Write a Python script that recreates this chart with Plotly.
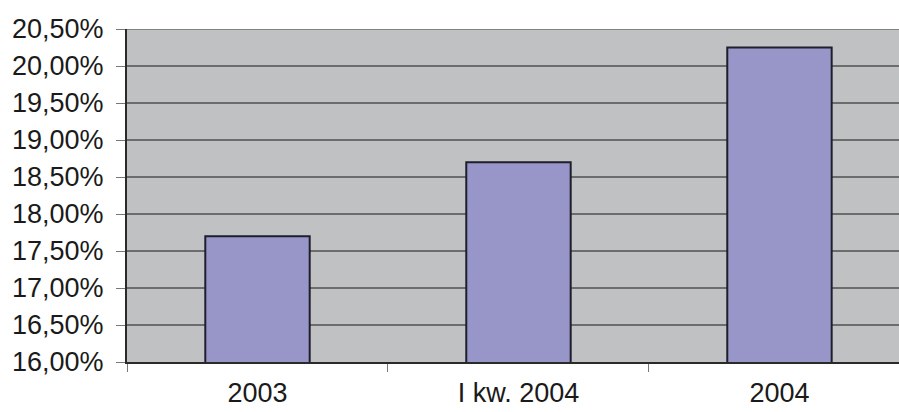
import plotly.graph_objects as go

# Share of value per period
categories = ["2003", "I kw. 2004", "2004"]
values = [0.1770, 0.1870, 0.2025]
y_ticks = [0.16, 0.165, 0.17, 0.175, 0.18, 0.185, 0.19, 0.195, 0.20, 0.205]

font_family = "Liberation Sans, Arial, sans-serif"
grid_color = "#6c6c6c"

fig = go.Figure(
    go.Bar(
        x=categories,
        y=values,
        width=0.40,
        marker=dict(color="#9896c9", line=dict(color="#1e1e2c", width=2)),
    )
)

fig.update_layout(
    width=899,
    height=412,
    margin=dict(l=127, r=0, t=29, b=50),
    paper_bgcolor="white",
    plot_bgcolor="#bfc1c3",
    separators=", ",
    showlegend=False,
    font=dict(family=font_family, color="#1a1a1a"),
)

# Gridline along the top edge of the plotting area
fig.add_shape(
    type="line",
    xref="paper",
    yref="y",
    x0=0,
    x1=1,
    y0=y_ticks[-1],
    y1=y_ticks[-1],
    line=dict(color=grid_color, width=1.5),
    layer="below",
)

fig.update_xaxes(
    type="category",
    range=[-0.5, 2.458],
    automargin=False,
    showgrid=False,
    showline=True,
    linecolor="#2a2a2a",
    linewidth=2,
    ticks="outside",
    tickson="boundaries",
    ticklen=8,
    tickcolor="#777777",
    tickwidth=1,
    tickfont=dict(size=27, family=font_family, color="#1a1a1a"),
    ticklabelstandoff=6,
)

fig.update_yaxes(
    range=[0.16, 0.205],
    automargin=False,
    tickvals=y_ticks,
    tickformat=".2%",
    showgrid=True,
    gridcolor=grid_color,
    gridwidth=1.5,
    showline=True,
    linecolor="#2a2a2a",
    linewidth=2,
    ticks="outside",
    ticklen=9,
    tickcolor="#777777",
    tickwidth=1,
    tickfont=dict(size=27, family=font_family, color="#1a1a1a"),
    ticklabelstandoff=7,
    zeroline=False,
)

fig.write_html("out.html")
